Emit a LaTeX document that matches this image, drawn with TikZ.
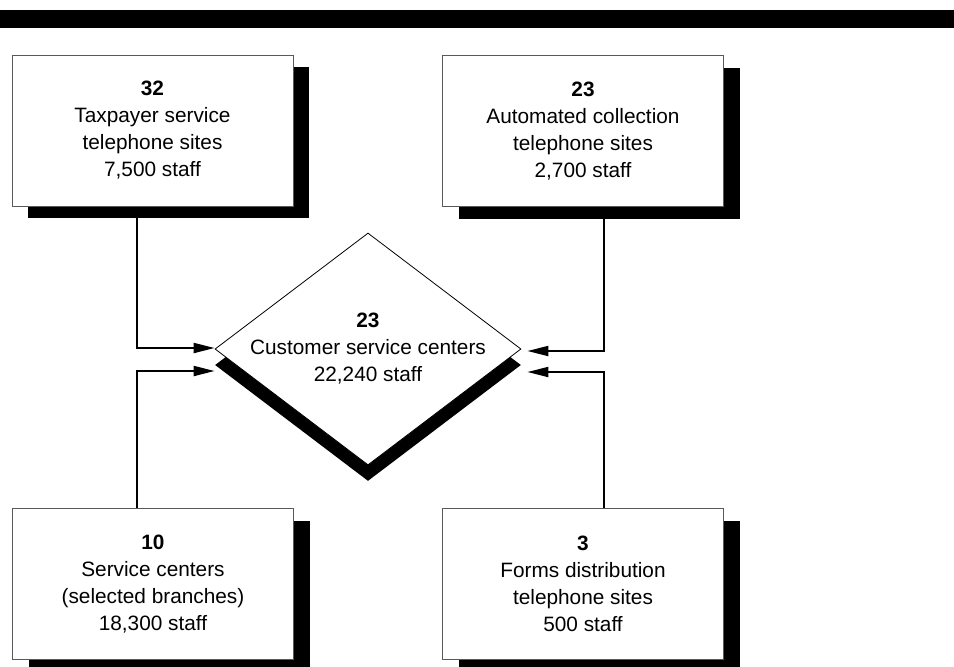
\documentclass[tikz,border=0pt]{standalone}
\usepackage{fontspec}
\setmainfont{Liberation Sans}
\usepackage{tikz}
\usetikzlibrary{shapes.geometric,shadows,arrows.meta}

\begin{document}
\begin{tikzpicture}[x=0.5pt,y=-0.5pt,
		sitebox/.style={draw=black!65, line width=0.5pt, fill=white, minimum width=140.5pt, minimum height=75.5pt,
			align=center, font=\fontsize{10.4}{13.5}\selectfont,
			drop shadow={shadow xshift=8pt, shadow yshift=-6pt, fill=black, opacity=1}},
		centerbox/.style={diamond, draw=black, line width=0.4pt, fill=white, inner sep=0pt, minimum width=153pt, minimum height=116pt,
			drop shadow={shadow xshift=0pt, shadow yshift=-8pt, fill=black, opacity=1}},
		feed/.style={line width=1pt, -{Triangle[length=10.5pt, width=5pt]}}]
						\useasboundingbox (0,0) rectangle (954,666);
						\fill (0,10) rectangle (954,28);
						\node[sitebox] (taxpayer) at (152.5,130.5) {\textbf{32}\\Taxpayer service\\telephone sites\\7,500 staff};
						\node[sitebox] (collection) at (583,131) {\textbf{23}\\Automated collection\\telephone sites\\2,700 staff};
						\node[sitebox] (service) at (153,584) {\textbf{10}\\Service centers\\(selected branches)\\18,300 staff};
						\node[sitebox] (forms) at (583,584) {\textbf{3}\\Forms distribution\\telephone sites\\500 staff};
						\node[centerbox] (csc) at (368,349) {};
						\node[align=center, font=\fontsize{10.4}{13.5}\selectfont] (csctext) at (csc.center) {\textbf{23}\\Customer service centers\\22,240 staff};
						\draw[feed] ([xshift=-7.75pt]taxpayer.south) |- ([yshift=0.5pt]csc.west);
						\draw[feed] ([xshift=-8pt]service.north) |- ([yshift=-11pt]csc.west);
						\draw[feed] ([xshift=10.5pt]collection.south) |- ([xshift=3pt,yshift=-1pt]csc.east);
						\draw[feed] ([xshift=10.5pt]forms.north) |- ([xshift=3pt,yshift=-11.5pt]csc.east);
					\end{tikzpicture}
\end{document}
